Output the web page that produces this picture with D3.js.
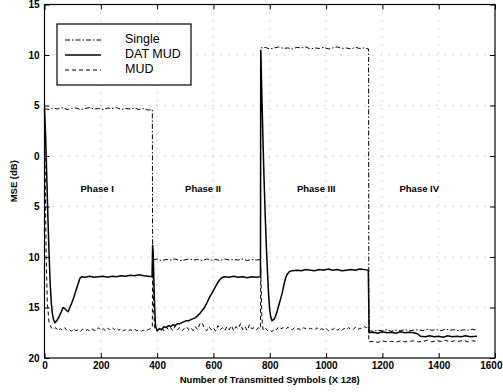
<!DOCTYPE html>
<html>
<head>
<meta charset="utf-8">
<script src="https://cdn.jsdelivr.net/npm/d3@7"></script>
<style>
  body { margin: 0; background: #fff; }
  svg { display: block; font-family: "Liberation Sans", Arial, sans-serif; }
</style>
</head>
<body>
<svg id="chart" width="503" height="392"></svg>
<script>
// MSE curves, x in transmitted symbols (x128), y in dB
const single = [
  [0,4.7],[16,4.6],[32,4.75],[48,4.65],[64,4.8],[80,4.6],[96,4.7],[112,4.75],[128,4.6],[144,4.7],
  [160,4.8],[176,4.65],[192,4.7],[208,4.6],[224,4.75],[240,4.7],[256,4.8],[272,4.6],[288,4.7],
  [304,4.65],[320,4.75],[336,4.6],[352,4.7],[368,4.55],[383,4.6],
  [384,-10.3],[400,-10.2],[416,-10.35],[432,-10.25],[448,-10.3],[464,-10.2],[480,-10.35],[496,-10.3],
  [512,-10.2],[528,-10.3],[544,-10.25],[560,-10.35],[576,-10.2],[592,-10.3],[608,-10.25],[624,-10.35],
  [640,-10.2],[656,-10.3],[672,-10.25],[688,-10.3],[704,-10.2],[720,-10.35],[736,-10.25],[752,-10.3],[767,-10.25],
  [768,10.7],[784,10.75],[800,10.6],[816,10.7],[832,10.8],[848,10.65],[864,10.7],[880,10.6],[896,10.75],
  [912,10.7],[928,10.8],[944,10.6],[960,10.7],[976,10.65],[992,10.75],[1008,10.6],[1024,10.7],[1040,10.8],
  [1056,10.65],[1072,10.7],[1088,10.6],[1104,10.75],[1120,10.65],[1136,10.7],[1151,10.6],
  [1152,-17.3],[1168,-17.35],[1184,-17.25],[1200,-17.3],[1216,-17.2],[1232,-17.35],[1248,-17.25],
  [1264,-17.3],[1280,-17.2],[1296,-17.3],[1312,-17.25],[1328,-17.2],[1344,-17.3],[1360,-17.15],
  [1376,-17.25],[1392,-17.2],[1408,-17.3],[1424,-17.15],[1440,-17.25],[1456,-17.2],[1472,-17.3],
  [1488,-17.2],[1504,-17.25],[1520,-17.15],[1536,-17.25]
];

const datMud = [
  [0,4.7],[4,2],[8,-2],[12,-6],[16,-9.5],[20,-12.5],[24,-14.5],[28,-15.6],[32,-16.2],[37,-16.5],
  [44,-16.3],[52,-15.9],[60,-15.4],[66,-15.0],[72,-15.1],[78,-15.3],[84,-15.4],[90,-15.0],[96,-14.6],
  [104,-14.0],[112,-13.3],[120,-12.6],[126,-12.1],[132,-11.95],[144,-12.0],[160,-11.9],[176,-12.0],
  [192,-11.95],[208,-11.9],[224,-12.0],[240,-11.9],[256,-11.95],[272,-11.85],[288,-11.9],[304,-11.8],
  [320,-11.85],[336,-11.75],[352,-11.85],[368,-11.9],[382,-11.95],
  [384,-8.8],[386,-9.5],[390,-14],[394,-16.8],[400,-17.3],[408,-17.1],[416,-17.2],[424,-16.9],
  [432,-17.0],[440,-16.8],[448,-16.9],[456,-16.7],[464,-16.8],[472,-16.6],[480,-16.6],[488,-16.5],
  [496,-16.4],[504,-16.3],[512,-16.3],[520,-16.2],[528,-16.1],[536,-16.0],[544,-15.8],[552,-15.6],
  [560,-15.3],[568,-15.0],[576,-14.6],[584,-14.1],[592,-13.7],[600,-13.3],[608,-12.9],[616,-12.5],
  [624,-12.2],[632,-12.0],[640,-11.95],[656,-12.0],[672,-11.9],[688,-12.0],[704,-11.95],[720,-12.05],
  [736,-11.95],[752,-12.0],[767,-11.95],
  [768,10.5],[772,6],[776,1.5],[780,-2.5],[784,-6],[788,-9],[792,-11.5],[796,-13.8],[800,-15.3],
  [804,-16.0],[808,-16.3],[814,-16.2],[820,-15.9],[826,-15.4],[832,-14.8],[838,-14.2],[844,-13.6],
  [850,-12.8],[856,-12.1],[862,-11.7],[870,-11.45],[880,-11.35],[896,-11.3],[912,-11.35],[928,-11.25],
  [944,-11.3],[960,-11.35],[976,-11.25],[992,-11.3],[1008,-11.2],[1024,-11.3],[1040,-11.25],
  [1056,-11.35],[1072,-11.3],[1088,-11.25],[1104,-11.3],[1120,-11.2],[1136,-11.25],[1150,-11.3],
  [1153,-17.5],[1168,-17.45],[1184,-17.55],[1200,-17.4],[1216,-17.5],[1232,-17.45],[1248,-17.55],
  [1264,-17.4],[1280,-17.5],[1296,-17.45],[1312,-17.5],[1324,-17.6],[1336,-17.85],[1352,-17.9],
  [1368,-17.8],[1384,-17.9],[1400,-17.85],[1416,-17.95],[1432,-17.8],[1448,-17.9],[1464,-17.85],
  [1480,-17.9],[1496,-17.8],[1512,-17.9],[1536,-17.85]
];

const mud = [
  [0,4.7],[3,-3],[6,-10],[10,-14.5],[16,-16.5],[24,-17.0],[32,-17.2],[40,-17.0],[48,-17.3],[56,-17.1],
  [64,-17.25],[72,-17.0],[80,-17.3],[88,-17.2],[96,-17.35],[104,-17.1],[112,-17.3],[120,-17.2],
  [128,-17.35],[136,-17.15],[144,-17.3],[152,-17.2],[160,-17.3],[168,-17.1],[176,-17.25],[184,-17.3],
  [192,-17.0],[200,-17.25],[208,-17.1],[216,-17.3],[224,-17.05],[232,-17.2],[240,-16.95],[248,-17.2],
  [256,-17.0],[264,-17.25],[272,-17.1],[280,-17.3],[288,-17.2],[296,-17.35],[304,-17.2],[312,-17.3],
  [320,-17.15],[328,-17.3],[336,-17.2],[344,-17.35],[352,-17.25],[360,-17.3],[368,-17.2],[376,-17.1],[383,-17.0],
  [384,-9.5],[388,-15.5],[392,-17.2],[400,-17.3],[408,-17.1],[416,-17.0],[424,-17.3],[432,-16.9],
  [440,-17.2],[448,-17.0],[456,-17.3],[464,-16.8],[472,-17.2],[480,-17.0],[488,-17.3],[496,-17.1],
  [504,-16.9],[512,-17.2],[520,-17.0],[528,-17.3],[536,-16.9],[544,-17.2],[552,-16.6],[560,-16.5],
  [568,-17.1],[576,-17.3],[584,-16.9],[592,-17.2],[600,-17.0],[608,-17.35],[616,-16.8],[624,-17.2],
  [632,-17.0],[640,-17.3],[648,-16.9],[656,-17.2],[664,-16.8],[672,-17.3],[680,-16.9],[688,-17.1],
  [696,-16.6],[704,-17.2],[712,-16.9],[720,-17.3],[728,-16.7],[736,-17.1],[744,-17.0],[752,-17.2],
  [760,-17.0],[767,-17.1],
  [768,-11],[772,-16],[776,-17.2],[784,-17.0],[792,-17.3],[800,-17.2],[808,-17.4],[816,-17.1],
  [824,-17.2],[832,-16.9],[840,-17.1],[848,-17.0],[856,-17.2],[864,-16.95],[872,-17.1],[880,-17.2],
  [888,-17.0],[896,-17.15],[904,-17.1],[912,-17.25],[920,-17.0],[928,-17.1],[936,-17.2],[944,-17.05],
  [952,-17.15],[960,-17.2],[968,-17.0],[976,-17.25],[984,-17.1],[992,-17.2],[1000,-17.05],[1008,-17.3],
  [1016,-17.1],[1024,-17.2],[1032,-17.0],[1040,-17.25],[1048,-17.1],[1056,-17.3],[1064,-17.05],
  [1072,-17.2],[1080,-17.0],[1088,-17.15],[1096,-17.2],[1104,-16.95],[1112,-17.2],[1120,-17.05],
  [1128,-17.1],[1136,-16.9],[1144,-17.0],[1151,-16.9],
  [1152,-18.4],[1168,-18.35],[1184,-18.45],[1200,-18.3],[1216,-18.4],[1232,-18.35],[1248,-18.45],
  [1264,-18.3],[1280,-18.4],[1296,-18.35],[1312,-18.3],[1328,-18.4],[1344,-18.35],[1360,-18.25],
  [1376,-18.4],[1392,-18.3],[1408,-18.35],[1424,-18.25],[1440,-18.4],[1456,-18.3],[1472,-18.35],
  [1488,-18.25],[1504,-18.4],[1520,-18.3],[1536,-18.35]
];

const xTicks = [0, 200, 400, 600, 800, 1000, 1200, 1400, 1600];
const yTicks = [-20, -15, -10, -5, 0, 5, 10, 15];
// labels as printed on the figure (minus signs are not visible there)
const yTickLabels = ['20', '15', '10', '5', '0', '5', '10', '15'];

const phaseNames = ['Phase I', 'Phase II', 'Phase III', 'Phase IV'];
const phaseCenters = [187, 563, 965, 1331];
const phaseLabelY = -3.3;

const legendNames = ['Single', 'DAT MUD', 'MUD'];

const svg = d3.select('#chart');
const plotL = 44.5, plotR = 495, plotT = 4.5, plotB = 358;

const x = d3.scaleLinear().domain([0, 1600]).range([plotL, plotR]);
const y = d3.scaleLinear().domain([-20, 15]).range([plotB, plotT]);

// dotted grid
const grid = svg.append('g').attr('stroke', '#999').attr('stroke-width', 0.8)
  .attr('stroke-dasharray', '1,7');
grid.selectAll('.gx').data(xTicks.slice(1, -1)).enter().append('line')
  .attr('x1', d => x(d)).attr('x2', d => x(d)).attr('y1', plotT).attr('y2', plotB);
grid.selectAll('.gy').data(yTicks.slice(1, -1)).enter().append('line')
  .attr('x1', plotL).attr('x2', plotR).attr('y1', d => y(d)).attr('y2', d => y(d));

// axes, ticks pointing inward like matlab
const fmtY = d => yTickLabels[yTicks.indexOf(d)];

const axB = svg.append('g').attr('transform', `translate(0,${plotB})`)
  .call(d3.axisBottom(x).tickValues(xTicks).tickSizeInner(-5).tickSizeOuter(0).tickPadding(4)
    .tickFormat(d3.format('d')));
const axT = svg.append('g').attr('transform', `translate(0,${plotT})`)
  .call(d3.axisTop(x).tickValues(xTicks).tickSizeInner(-5).tickSizeOuter(0).tickFormat(''));
const axL = svg.append('g').attr('transform', `translate(${plotL},0)`)
  .call(d3.axisLeft(y).tickValues(yTicks).tickSizeInner(-5).tickSizeOuter(0).tickPadding(5).tickFormat(fmtY));
const axR = svg.append('g').attr('transform', `translate(${plotR},0)`)
  .call(d3.axisRight(y).tickValues(yTicks).tickSizeInner(-5).tickSizeOuter(0).tickFormat(''));

[axB, axT, axL, axR].forEach(a => {
  a.select('.domain').remove();
  a.selectAll('.tick line').attr('stroke', '#000').attr('stroke-width', 1);
  a.selectAll('.tick text').attr('fill', '#000').style('font-size', '10px').style('font-weight', 'bold')
    .style('font-family', '"Liberation Sans", Arial, sans-serif');
});
// last x label sits at the window edge; keep it inside
axB.selectAll('.tick text').filter(d => d === 1600).attr('text-anchor', 'end').attr('dx', 7);

svg.append('rect').attr('x', plotL).attr('y', plotT)
  .attr('width', plotR - plotL).attr('height', plotB - plotT)
  .attr('fill', 'none').attr('stroke', '#000').attr('stroke-width', 1.2);

// curves
const line = d3.line().x(d => x(d[0])).y(d => y(d[1]));
const styles = [
  { data: single, dash: '5,2,1.5,2', width: 1 },
  { data: datMud, dash: null, width: 1.5 },
  { data: mud, dash: '4,3', width: 1 }
];
styles.forEach(s => {
  svg.append('path').datum(s.data).attr('d', line)
    .attr('fill', 'none').attr('stroke', '#000')
    .attr('stroke-width', s.width)
    .attr('stroke-dasharray', s.dash);
});

// phase labels
svg.selectAll('.phase').data(phaseNames).enter().append('text')
  .attr('x', (d, i) => x(phaseCenters[i])).attr('y', y(phaseLabelY))
  .attr('text-anchor', 'middle').attr('dominant-baseline', 'middle')
  .style('font-size', '9.5px').style('font-weight', 'bold')
  .text(d => d);

// legend
const lg = svg.append('g');
lg.append('rect').attr('x', 57).attr('y', 24).attr('width', 134).attr('height', 61)
  .attr('fill', '#fff').attr('stroke', '#000').attr('stroke-width', 1.2);
const items = lg.selectAll('.item').data(legendNames).enter().append('g')
  .attr('transform', (d, i) => `translate(0,${40 + i * 15})`);
items.append('line').attr('x1', 65).attr('x2', 101).attr('y1', 0).attr('y2', 0)
  .attr('stroke', '#000')
  .attr('stroke-width', (d, i) => styles[i].width)
  .attr('stroke-dasharray', (d, i) => styles[i].dash);
items.append('text').attr('x', 125).attr('y', 0).attr('dominant-baseline', 'middle')
  .style('font-size', '12.5px').text(d => d);

// axis titles
svg.append('text').attr('x', (plotL + plotR) / 2).attr('y', 383)
  .attr('text-anchor', 'middle').style('font-size', '9.5px').style('font-weight', 'bold')
  .text('Number of Transmitted Symbols (X 128)');
svg.append('text').attr('transform', `translate(17,${(plotT + plotB) / 2}) rotate(-90)`)
  .attr('text-anchor', 'middle').style('font-size', '9.5px').style('font-weight', 'bold')
  .text('MSE (dB)');
</script>
</body>
</html>
